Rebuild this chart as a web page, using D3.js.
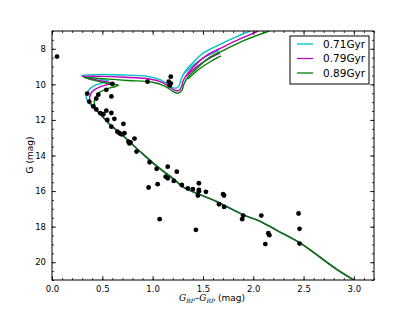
<!DOCTYPE html>
<html>
<head>
<meta charset="utf-8">
<script src="https://cdn.jsdelivr.net/npm/d3@7"></script>
<style>
body { margin: 0; background: #fff; }
text { font-family: "DejaVu Sans", sans-serif; }
</style>
</head>
<body>
<div id="chart"></div>
<script>
// chart size
var width = 415;
var height = 312;

// axis ticks
var xTicks = [0.0, 0.5, 1.0, 1.5, 2.0, 2.5, 3.0];
var yTicks = [8, 10, 12, 14, 16, 18, 20];

// shared lower main sequence [colour, G]
var lowerMS = [[3.0, 21.0], [2.83, 20.4], [2.46, 18.9], [2.23, 18.2], [2.07, 17.7], [1.9, 17.34],
    [1.64, 16.6], [1.3, 15.76], [1.22, 15.37], [1.05, 14.64], [0.89, 13.85], [0.72, 12.96], [0.56, 12.17]];

// upper parts of the isochrones
var iso071 = [[0.47, 11.62], [0.40, 11.25], [0.35, 10.9], [0.34, 10.6], [0.37, 10.3], [0.43, 10.05],
    [0.52, 9.88], [0.56, 9.8], [0.45, 9.68], [0.29, 9.5], [0.45, 9.45], [0.7, 9.47], [0.95, 9.55],
    [1.08, 9.75], [1.15, 10.0], [1.2, 10.18], [1.24, 10.2], [1.265, 10.05], [1.285, 9.7],
    [1.32, 9.3], [1.38, 8.9], [1.5, 8.25], [1.67, 7.75], [1.84, 7.3], [1.97, 7.0]];
var iso079 = [[0.48, 11.68], [0.42, 11.35], [0.38, 11.0], [0.375, 10.7], [0.40, 10.4], [0.47, 10.15],
    [0.56, 10.0], [0.60, 9.93], [0.48, 9.8], [0.30, 9.55], [0.47, 9.55], [0.72, 9.6], [0.97, 9.7],
    [1.1, 9.9], [1.17, 10.15], [1.22, 10.33], [1.26, 10.35], [1.29, 10.1], [1.30, 9.85],
    [1.34, 9.45], [1.40, 9.05], [1.53, 8.4], [1.7, 7.9], [1.88, 7.42], [2.05, 7.0]];
var iso089 = [[0.49, 11.72], [0.44, 11.4], [0.42, 11.05], [0.43, 10.75], [0.47, 10.45], [0.55, 10.25],
    [0.63, 10.12], [0.66, 10.05], [0.56, 9.95], [0.32, 9.62], [0.5, 9.68], [0.75, 9.78], [1.0, 9.88],
    [1.12, 10.1], [1.19, 10.35], [1.245, 10.5], [1.29, 10.35], [1.31, 10.0], [1.35, 9.6],
    [1.42, 9.2], [1.55, 8.55], [1.72, 8.05], [1.9, 7.55], [2.16, 7.0]];

// core helium burning pieces
var clump071 = [[1.31, 9.4], [1.42, 8.85], [1.54, 8.4], [1.66, 8.1]];
var clump079 = [[1.33, 9.55], [1.44, 9.0], [1.56, 8.55], [1.67, 8.25]];
var clump089 = [[1.35, 9.7], [1.46, 9.15], [1.58, 8.7], [1.68, 8.4]];

var ages = ["0.71Gyr", "0.79Gyr", "0.89Gyr"];
var colours = ["#00bfbf", "#bf00bf", "#008000"];

// cluster stars
var starColour = [0.05, 0.35, 0.37, 0.44, 0.46, 0.54, 0.60, 0.59, 0.41, 0.44, 0.48, 0.51, 0.54, 0.59,
    0.62, 0.55, 0.59, 0.71, 0.65, 0.67, 0.69, 0.72, 0.82, 0.76, 0.77, 0.78, 0.84, 0.95, 1.18, 1.16,
    1.18, 1.17, 0.97, 1.04, 1.15, 1.13, 1.15, 1.24, 1.21, 1.05, 0.96, 1.29, 1.35, 1.40, 1.46, 1.46,
    1.46, 1.45, 1.53, 1.70, 1.71, 1.66, 1.71, 1.07, 1.43, 1.90, 1.89, 2.08, 2.15, 2.16, 2.12, 2.45,
    2.46, 2.46];
var starG = [8.44, 10.52, 10.97, 10.8, 10.58, 10.31, 9.98, 10.68, 11.24, 11.41, 11.62, 11.68, 11.48,
    11.61, 11.94, 12.0, 12.38, 12.22, 12.66, 12.75, 12.81, 12.75, 13.05, 13.22, 13.32, 13.26, 13.78,
    9.85, 9.57, 9.85, 9.94, 10.06, 14.38, 14.75, 14.63, 15.19, 15.28, 14.91, 15.43, 15.61, 15.8,
    15.66, 15.85, 15.89, 15.56, 15.93, 16.01, 16.25, 16.04, 16.17, 16.25, 16.74, 16.89, 17.58, 18.18,
    17.38, 17.58, 17.38, 18.37, 18.48, 18.98, 17.26, 18.12, 18.95];

var pLeft = 52, pRight = 374, pTop = 31, pBottom = 280;

var svg = d3.select("#chart").append("svg")
    .attr("width", width)
    .attr("height", height);

var x = d3.scaleLinear().domain([0, 3.2]).range([pLeft, pRight]);
var y = d3.scaleLinear().domain([7, 21]).range([pTop, pBottom]);

svg.append("clipPath").attr("id", "clip")
    .append("rect")
    .attr("x", pLeft).attr("y", pTop)
    .attr("width", pRight - pLeft).attr("height", pBottom - pTop);

var line = d3.line()
    .x(function(d) { return x(d[0]); })
    .y(function(d) { return y(d[1]); })
    .curve(d3.curveCatmullRom.alpha(0.5));

var plot = svg.append("g").attr("clip-path", "url(#clip)");

var isos = [lowerMS.concat(iso071), lowerMS.concat(iso079), lowerMS.concat(iso089)];
var clumps = [clump071, clump079, clump089];

isos.forEach(function(iso, i) {
    plot.append("path")
        .attr("d", line(iso))
        .attr("fill", "none")
        .attr("stroke", colours[i])
        .attr("stroke-width", 1.4);
    plot.append("path")
        .attr("d", line(clumps[i]))
        .attr("fill", "none")
        .attr("stroke", colours[i])
        .attr("stroke-width", 1.4);
});

plot.selectAll("circle")
    .data(starColour)
    .enter()
    .append("circle")
    .attr("cx", function(d) { return x(d); })
    .attr("cy", function(d, i) { return y(starG[i]); })
    .attr("r", 2.4)
    .attr("fill", "black");

// axes, ticks pointing inwards on all sides
var xMinor = d3.range(0, 3.25, 0.1);
var yMinor = d3.range(7, 21.25, 0.5);

function addAxis(axis, tx, ty) {
    return svg.append("g").attr("transform", "translate(" + tx + "," + ty + ")").call(axis);
}

addAxis(d3.axisBottom(x).tickValues(xMinor).tickFormat("").tickSizeInner(-2).tickSizeOuter(0), 0, pBottom);
addAxis(d3.axisTop(x).tickValues(xMinor).tickFormat("").tickSizeInner(-2).tickSizeOuter(0), 0, pTop);
addAxis(d3.axisLeft(y).tickValues(yMinor).tickFormat("").tickSizeInner(-2).tickSizeOuter(0), pLeft, 0);
addAxis(d3.axisRight(y).tickValues(yMinor).tickFormat("").tickSizeInner(-2).tickSizeOuter(0), pRight, 0);

addAxis(d3.axisBottom(x).tickValues(xTicks).tickFormat(d3.format(".1f")).tickSizeInner(-4).tickSizeOuter(0).tickPadding(6), 0, pBottom);
addAxis(d3.axisTop(x).tickValues(xTicks).tickFormat("").tickSizeInner(-4).tickSizeOuter(0), 0, pTop);
addAxis(d3.axisLeft(y).tickValues(yTicks).tickSizeInner(-4).tickSizeOuter(0).tickPadding(6), pLeft, 0);
addAxis(d3.axisRight(y).tickValues(yTicks).tickFormat("").tickSizeInner(-4).tickSizeOuter(0), pRight, 0);

svg.selectAll(".domain").remove();
svg.selectAll(".tick line").attr("stroke", "black").attr("stroke-width", 0.8);
svg.selectAll(".tick text").attr("font-size", "8.5px").attr("fill", "black")
    .style("font-family", "DejaVu Sans, sans-serif");

svg.append("rect")
    .attr("x", pLeft).attr("y", pTop)
    .attr("width", pRight - pLeft).attr("height", pBottom - pTop)
    .attr("fill", "none")
    .attr("stroke", "black")
    .attr("stroke-width", 1);

// axis labels
var xl = svg.append("text")
    .attr("x", 212).attr("y", 301)
    .attr("text-anchor", "middle")
    .attr("font-size", "9px");
xl.append("tspan").attr("font-style", "italic").attr("font-family", "DejaVu Serif, serif").text("G");
xl.append("tspan").attr("font-style", "italic").attr("font-family", "DejaVu Serif, serif").attr("font-size", "6px").attr("dy", 2).text("BP");
xl.append("tspan").attr("dy", -2).text("\u2013");
xl.append("tspan").attr("font-style", "italic").attr("font-family", "DejaVu Serif, serif").text("G");
xl.append("tspan").attr("font-style", "italic").attr("font-family", "DejaVu Serif, serif").attr("font-size", "6px").attr("dy", 2).text("RP");
xl.append("tspan").attr("dy", -2).text(" (mag)");

svg.append("text")
    .attr("transform", "translate(33,155) rotate(-90)")
    .attr("text-anchor", "middle")
    .attr("font-size", "9px")
    .text("G (mag)");

// legend
var legend = svg.append("g");
legend.append("rect")
    .attr("x", 290).attr("y", 36)
    .attr("width", 79).attr("height", 48)
    .attr("fill", "white")
    .attr("stroke", "black")
    .attr("stroke-width", 1);

ages.forEach(function(a, i) {
    legend.append("line")
        .attr("x1", 297).attr("x2", 313)
        .attr("y1", 44 + i * 14.5).attr("y2", 44 + i * 14.5)
        .attr("stroke", colours[i])
        .attr("stroke-width", 1.3);
    legend.append("text")
        .attr("x", 323).attr("y", 44 + i * 14.5)
        .attr("dy", "0.35em")
        .attr("font-size", "10.5px")
        .text(a);
});
</script>
</body>
</html>
